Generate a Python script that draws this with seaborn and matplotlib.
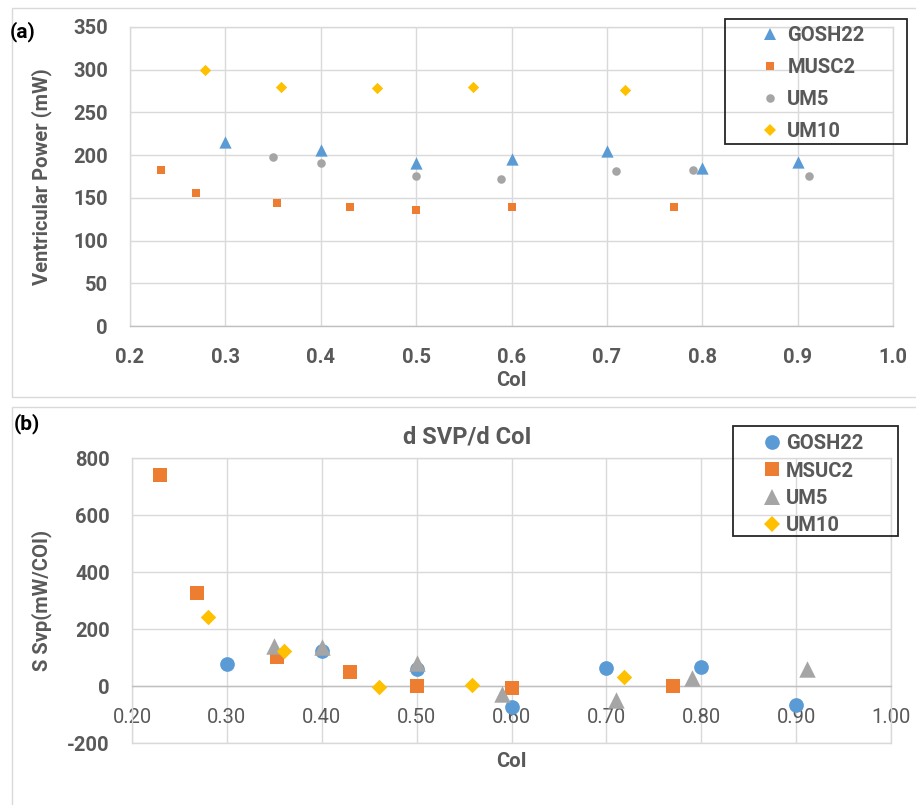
import matplotlib
matplotlib.use("Agg")
import matplotlib.pyplot as plt
import seaborn as sns
import pandas as pd
from matplotlib.patches import Rectangle
from matplotlib.lines import Line2D

sns.set_theme(style="white")
plt.rcParams['font.family'] = ['Roboto', 'DejaVu Sans']
plt.rcParams['axes.unicode_minus'] = False

# ---------------- data: panel (a) ----------------
a_series = ["GOSH22", "MUSC2", "UM5", "UM10"]
a_gosh_x = [0.30, 0.40, 0.50, 0.60, 0.70, 0.80, 0.90]
a_gosh_y = [215, 206, 191, 195, 205, 185, 192]
a_musc_x = [0.232, 0.269, 0.354, 0.431, 0.50, 0.60, 0.77]
a_musc_y = [183, 156, 144, 139, 136, 139, 139]
a_um5_x = [0.35, 0.40, 0.50, 0.589, 0.71, 0.79, 0.912]
a_um5_y = [198, 191, 176, 172, 181, 183, 176]
a_um10_x = [0.279, 0.358, 0.459, 0.56, 0.719]
a_um10_y = [300, 280, 279, 280, 276]

# ---------------- data: panel (b) ----------------
b_series = ["GOSH22", "MSUC2", "UM5", "UM10"]
b_gosh_x = [0.30, 0.40, 0.50, 0.60, 0.70, 0.80, 0.90]
b_gosh_y = [77, 123, 60, -74, 63, 67, -67]
b_msuc_x = [0.23, 0.268, 0.353, 0.43, 0.50, 0.60, 0.77]
b_msuc_y = [741, 327, 102, 50, 0, -8, 0]
b_um5_x = [0.35, 0.40, 0.50, 0.59, 0.71, 0.79, 0.911]
b_um5_y = [140, 137, 80, -28, -50, 28, 60]
b_um10_x = [0.28, 0.36, 0.46, 0.558, 0.719]
b_um10_y = [242, 123, -3, 3, 32]

a_xticks = [0.2, 0.3, 0.4, 0.5, 0.6, 0.7, 0.8, 0.9, 1.0]
a_xticklabels = ["0.2", "0.3", "0.4", "0.5", "0.6", "0.7", "0.8", "0.9", "1.0"]
a_yticks = [0, 50, 100, 150, 200, 250, 300, 350]
b_xticks = [0.2, 0.3, 0.4, 0.5, 0.6, 0.7, 0.8, 0.9, 1.0]
b_xticklabels = ["0.20", "0.30", "0.40", "0.50", "0.60", "0.70", "0.80", "0.90", "1.00"]
b_yticks = [-200, 0, 200, 400, 600, 800]

# ---------------- styles ----------------
BLUE, ORANGE, GRAY, GOLD = "#5B9BD5", "#ED7D31", "#A5A5A5", "#FFC000"
TXT = "#595959"
GRID = "#D9D9D9"
FS = 14.5

a_colors = [BLUE, ORANGE, GRAY, GOLD]
a_markers = ["^", "s", "o", "D"]
a_sizes = [78, 38, 38, 33]
b_colors = [BLUE, ORANGE, GRAY, GOLD]
b_markers = ["o", "s", "^", "D"]
b_sizes = [112, 100, 140, 62]

a_data = [(a_gosh_x, a_gosh_y), (a_musc_x, a_musc_y), (a_um5_x, a_um5_y), (a_um10_x, a_um10_y)]
b_data = [(b_gosh_x, b_gosh_y), (b_msuc_x, b_msuc_y), (b_um5_x, b_um5_y), (b_um10_x, b_um10_y)]

W, H = 916, 805
fig = plt.figure(figsize=(W / 100, H / 100), dpi=100)

def fx(px):
    return px / W

def fy(py):
    return 1 - py / H

# panel frames
fig.patches.append(Rectangle((fx(12), fy(397)), 1.2, fy(8) - fy(397), transform=fig.transFigure,
                             fill=False, edgecolor=GRID, linewidth=1.0))
fig.patches.append(Rectangle((fx(12), -0.2), 1.2, fy(407) + 0.2, transform=fig.transFigure,
                             fill=False, edgecolor=GRID, linewidth=1.0))

ax1 = fig.add_axes([fx(130), fy(326), fx(893) - fx(130), fy(27) - fy(326)])
ax2 = fig.add_axes([fx(132), fy(743), fx(891) - fx(132), fy(458) - fy(743)])

def style_axes(ax):
    ax.set_facecolor("none")
    ax.grid(True, color=GRID, linewidth=1.0)
    ax.set_axisbelow(True)
    for sp in ax.spines.values():
        sp.set_color(GRID)
        sp.set_linewidth(1.0)
    ax.tick_params(axis="both", length=0, pad=16, labelsize=FS, labelcolor=TXT)
    for lab in ax.get_xticklabels() + ax.get_yticklabels():
        lab.set_fontweight("bold")

# ---------- panel (a) ----------
for name, (xs, ys), c, m, s in zip(a_series, a_data, a_colors, a_markers, a_sizes):
    df = pd.DataFrame({"x": xs, "y": ys})
    sns.scatterplot(data=df, x="x", y="y", ax=ax1, color=c, marker=m, s=s,
                    linewidth=0, label=name, legend=False, zorder=3)
ax1.set_xlim(0.2, 1.0)
ax1.set_ylim(0, 350)
ax1.set_xticks(a_xticks)
ax1.set_xticklabels(a_xticklabels)
ax1.set_yticks(a_yticks)
style_axes(ax1)
ax1.spines["bottom"].set_color("#BFBFBF")
ax1.set_xlabel("CoI", fontsize=FS, fontweight="bold", color=TXT)
ax1.set_ylabel("Ventricular Power (mW)", fontsize=FS, fontweight="bold", color=TXT)
ax1.xaxis.set_label_coords(0.5, (326 - 371) / 299)
ax1.yaxis.set_label_coords((52 - 130) / 763, 0.5)

h1 = [Line2D([], [], linestyle="none", marker=m, color=c, markeredgewidth=0,
             markersize=s ** 0.5) for c, m, s in zip(a_colors, a_markers, a_sizes)]
fig.patches.append(Rectangle((fx(725), fy(144)), fx(907) - fx(725), fy(19) - fy(144),
                             transform=fig.transFigure, fill=False, edgecolor="#262626",
                             linewidth=1.3))
leg1 = fig.legend(h1, a_series, loc="upper left", bbox_to_anchor=(fx(750), fy(16)),
                  frameon=False, handlelength=1.0, handletextpad=0.35, labelspacing=0.64,
                  borderpad=0.0, prop=dict(size=FS, weight="bold"))
for t in leg1.get_texts():
    t.set_color(TXT)

# ---------- panel (b) ----------
for name, (xs, ys), c, m, s in zip(b_series, b_data, b_colors, b_markers, b_sizes):
    df = pd.DataFrame({"x": xs, "y": ys})
    sns.scatterplot(data=df, x="x", y="y", ax=ax2, color=c, marker=m, s=s,
                    linewidth=0, label=name, legend=False, zorder=3)
ax2.set_xlim(0.2, 1.0)
ax2.set_ylim(-200, 800)
ax2.set_xticks(b_xticks)
ax2.set_xticklabels(b_xticklabels)
ax2.set_yticks(b_yticks)
style_axes(ax2)
ax2.spines["bottom"].set_position(("data", 0))
ax2.spines["bottom"].set_color("#BFBFBF")
ax2.axhline(-200, color=GRID, linewidth=1.0, clip_on=False, zorder=0)
ax2.set_xlabel("CoI", fontsize=FS, fontweight="bold", color=TXT)
ax2.set_ylabel("S Svp(mW/COI)", fontsize=FS, fontweight="bold", color=TXT)
ax2.xaxis.set_label_coords(0.5, (743 - 752) / 285)
ax2.yaxis.set_label_coords((52 - 132) / 759, 0.5)

fig.text(fx(467), fy(437), "d SVP/d CoI", ha="center", va="center",
         fontsize=17, fontweight="bold", color=TXT)

h2 = [Line2D([], [], linestyle="none", marker=m, color=c, markeredgewidth=0,
             markersize=s ** 0.5) for c, m, s in zip(b_colors, b_markers, b_sizes)]
fig.patches.append(Rectangle((fx(733), fy(536)), fx(898) - fx(733), fy(426) - fy(536),
                             transform=fig.transFigure, fill=False, edgecolor="#262626",
                             linewidth=1.3))
leg2 = fig.legend(h2, b_series, loc="upper left", bbox_to_anchor=(fx(752), fy(424)),
                  frameon=False, handlelength=1.0, handletextpad=0.2, labelspacing=0.42,
                  borderpad=0.0, prop=dict(size=FS, weight="bold"))
for t in leg2.get_texts():
    t.set_color(TXT)

fig.text(fx(10), fy(32), "(a)", ha="left", va="center", fontsize=15, fontweight="bold",
         color="black")
fig.text(fx(14), fy(424), "(b)", ha="left", va="center", fontsize=15, fontweight="bold",
         color="black")

fig.savefig("out.png", dpi=100, facecolor="white")
